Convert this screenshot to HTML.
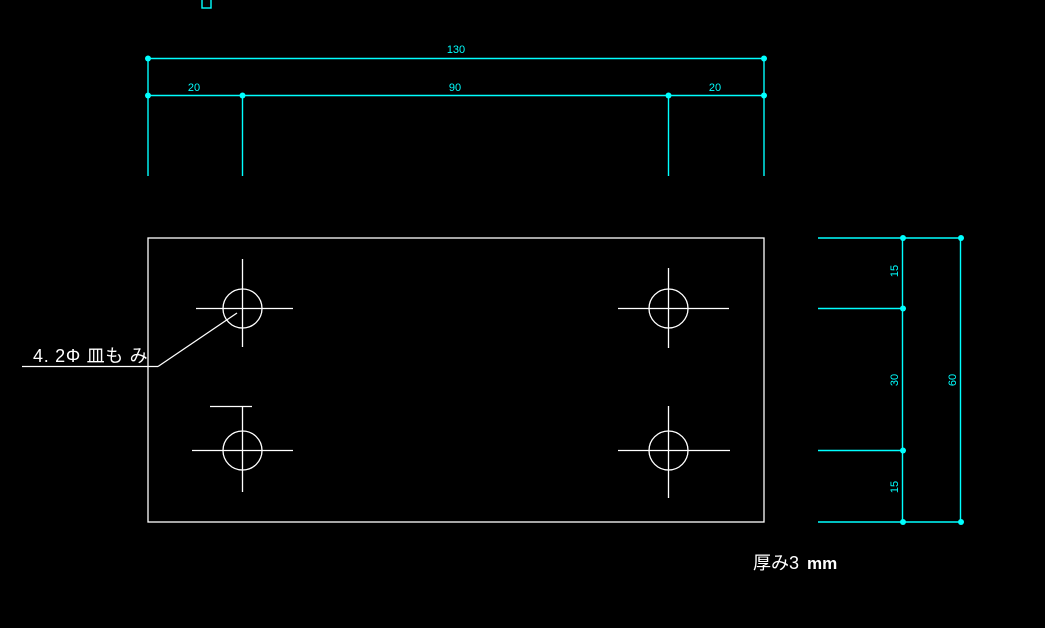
<!DOCTYPE html>
<html><head><meta charset="utf-8"><style>
html,body{margin:0;padding:0;background:#000;width:1045px;height:628px;overflow:hidden}
svg{display:block}
</style></head><body>
<svg width="1045" height="628" viewBox="0 0 1045 628" xmlns="http://www.w3.org/2000/svg">
<rect width="1045" height="628" fill="#000"/>
<g stroke="#00ffff" stroke-width="1.4" fill="none">
<rect x="202" y="-1" width="9" height="9"/>
<line x1="148" y1="58.5" x2="764" y2="58.5"/>
<line x1="148" y1="95.5" x2="764" y2="95.5"/>
<line x1="148" y1="58" x2="148" y2="176"/>
<line x1="764" y1="58" x2="764" y2="176"/>
<line x1="242.5" y1="95" x2="242.5" y2="176"/>
<line x1="668.5" y1="95" x2="668.5" y2="176"/>
<line x1="818" y1="238" x2="961" y2="238"/>
<line x1="818" y1="308.5" x2="903" y2="308.5"/>
<line x1="818" y1="450.5" x2="903" y2="450.5"/>
<line x1="818" y1="522" x2="961" y2="522"/>
<line x1="902.5" y1="238" x2="902.5" y2="522"/>
<line x1="960.5" y1="238" x2="960.5" y2="522"/>
</g>
<g fill="#00ffff">
<circle cx="148" cy="58.5" r="3"/><circle cx="764" cy="58.5" r="3"/>
<circle cx="148" cy="95.5" r="3"/><circle cx="242.5" cy="95.5" r="3"/>
<circle cx="668.5" cy="95.5" r="3"/><circle cx="764" cy="95.5" r="3"/>
<circle cx="903" cy="238" r="3"/><circle cx="961" cy="238" r="3"/>
<circle cx="903" cy="308.5" r="3"/><circle cx="903" cy="450.5" r="3"/>
<circle cx="903" cy="522" r="3"/><circle cx="961" cy="522" r="3"/>
</g>
<g fill="#00ffff" font-family="Liberation Sans Narrow, Liberation Sans, sans-serif" font-size="11" text-anchor="middle">
<text x="456" y="53">130</text>
<text x="194" y="91">20</text>
<text x="455" y="91">90</text>
<text x="715" y="91">20</text>
<text transform="translate(898,271) rotate(-90)">15</text>
<text transform="translate(898,380) rotate(-90)">30</text>
<text transform="translate(898,487) rotate(-90)">15</text>
<text transform="translate(956,380) rotate(-90)">60</text>
</g>
<g stroke="#fff" stroke-width="1.3" fill="none">
<rect x="148" y="238" width="616" height="284"/>
<line x1="196" y1="308.5" x2="293" y2="308.5"/><line x1="242.5" y1="259" x2="242.5" y2="347"/>
<line x1="618" y1="308.5" x2="729" y2="308.5"/><line x1="668.5" y1="268" x2="668.5" y2="348"/>
<line x1="192" y1="450.5" x2="293" y2="450.5"/><line x1="242.5" y1="407" x2="242.5" y2="492"/>
<line x1="210" y1="406.5" x2="252" y2="406.5"/>
<line x1="618" y1="450.5" x2="730" y2="450.5"/><line x1="668.5" y1="406" x2="668.5" y2="498"/>
<line x1="22" y1="366.5" x2="158" y2="366.5"/>
<circle cx="242.5" cy="308.5" r="19.5"/>
<circle cx="668.5" cy="308.5" r="19.5"/>
<circle cx="242.5" cy="450.5" r="19.5"/>
<circle cx="668.5" cy="450.5" r="19.5"/>
<line x1="158" y1="366.5" x2="237" y2="313"/>
</g>
<g fill="#fff" font-family="Liberation Sans, Noto Sans CJK JP, sans-serif" font-size="18">
<text x="33" y="362" letter-spacing="0.7">4. 2Φ 皿も み</text>
<text x="753" y="569">厚み3 <tspan font-weight="bold" font-size="17" dx="3">mm</tspan></text>
</g>
</svg>
</body></html>
